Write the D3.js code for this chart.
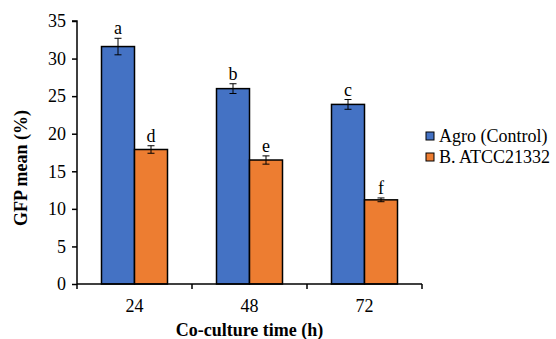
<!DOCTYPE html>
<html>
<head>
<meta charset="utf-8">
<script src="https://cdn.jsdelivr.net/npm/d3@7"></script>
<style>
  body { margin: 0; background: #fff; }
  svg text { font-family: "Liberation Serif", serif !important; }
</style>
</head>
<body>
<div id="chart"></div>
<script>
// Data
const times = ["24", "48", "72"];
const seriesNames = ["Agro (Control)", "B. ATCC21332"];
const agroMean = [31.6, 26.0, 23.9];
const agroErr = [1.1, 0.65, 0.65];
const bacMean = [17.9, 16.5, 11.2];
const bacErr = [0.5, 0.55, 0.25];
const agroLetters = ["a", "b", "c"];
const bacLetters = ["d", "e", "f"];
const yTicks = [0, 5, 10, 15, 20, 25, 30, 35];

const colors = ["#4472C4", "#ED7D31"];
const font = "'Liberation Serif', serif";

const width = 556, height = 339;
const margin = { top: 21, right: 134, bottom: 55, left: 77 };

const svg = d3.select("#chart").append("svg")
    .attr("width", width)
    .attr("height", height)
    .attr("font-family", font);

const g = svg.append("g")
    .attr("transform", `translate(${margin.left},${margin.top})`);

const innerW = width - margin.left - margin.right;
const innerH = height - margin.top - margin.bottom;

const x0 = d3.scaleBand().domain(times).range([0, innerW]).paddingInner(0).paddingOuter(0);
const x1 = d3.scaleBand().domain(seriesNames).range([0, 66]);
const barOffset = (x0.bandwidth() - 66) / 2;

const y = d3.scaleLinear().domain([0, 35]).range([innerH, 0]);

// build rows for the bars
const rows = [];
times.forEach((t, i) => {
    rows.push({ time: t, s: seriesNames[0], v: agroMean[i], e: agroErr[i], l: agroLetters[i], c: colors[0] });
    rows.push({ time: t, s: seriesNames[1], v: bacMean[i], e: bacErr[i], l: bacLetters[i], c: colors[1] });
});

// Bars
g.selectAll(".bar")
    .data(rows)
    .enter().append("rect")
    .attr("class", "bar")
    .attr("x", d => x0(d.time) + barOffset + x1(d.s))
    .attr("y", d => y(d.v))
    .attr("width", x1.bandwidth())
    .attr("height", d => innerH - y(d.v))
    .attr("fill", d => d.c)
    .attr("stroke", "#000")
    .attr("stroke-width", 1.5);

// Error bars
const cx = d => x0(d.time) + barOffset + x1(d.s) + x1.bandwidth() / 2;
const eb = g.selectAll(".err").data(rows).enter().append("g")
    .attr("stroke", "#000").attr("stroke-width", 1);
eb.append("line")
    .attr("x1", cx).attr("x2", cx)
    .attr("y1", d => y(d.v + d.e)).attr("y2", d => y(d.v - d.e));
eb.append("line")
    .attr("x1", d => cx(d) - 3.5).attr("x2", d => cx(d) + 3.5)
    .attr("y1", d => y(d.v + d.e)).attr("y2", d => y(d.v + d.e));
eb.append("line")
    .attr("x1", d => cx(d) - 3.5).attr("x2", d => cx(d) + 3.5)
    .attr("y1", d => y(d.v - d.e)).attr("y2", d => y(d.v - d.e));

// Significance letters
g.selectAll(".letter")
    .data(rows)
    .enter().append("text")
    .attr("x", cx)
    .attr("y", d => y(d.v + d.e) - 4)
    .attr("text-anchor", "middle")
    .style("font-size", "18px")
    .text(d => d.l);

// Y axis
const yAxis = g.append("g")
    .call(d3.axisLeft(y).tickValues(yTicks).tickSize(5).tickPadding(6))
    .attr("font-family", font);
yAxis.select(".domain").attr("stroke-width", 1.5).attr("d", `M-5,0H0V${innerH}`);
yAxis.selectAll(".tick line").attr("stroke-width", 1.5);
yAxis.selectAll("text").style("font-size", "18px").attr("fill", "#000");

// X axis: labels at band centers, ticks at band boundaries
const xAxis = g.append("g").attr("transform", `translate(0,${innerH})`);
xAxis.append("line")
    .attr("x1", 0).attr("x2", innerW)
    .attr("stroke", "#000").attr("stroke-width", 1.5);
xAxis.selectAll(".xtick")
    .data(times)
    .enter().append("line")
    .attr("x1", d => x0(d) + x0.bandwidth()).attr("x2", d => x0(d) + x0.bandwidth())
    .attr("y1", 0).attr("y2", 5)
    .attr("stroke", "#000").attr("stroke-width", 1.5);
xAxis.append("line")
    .attr("x1", 0).attr("x2", 0).attr("y1", 0).attr("y2", 5)
    .attr("stroke", "#000").attr("stroke-width", 1.5);
xAxis.selectAll(".xlab")
    .data(times)
    .enter().append("text")
    .attr("x", d => x0(d) + x0.bandwidth() / 2)
    .attr("y", 28)
    .attr("text-anchor", "middle")
    .style("font-size", "18px")
    .text(d => d);

// Axis titles
svg.append("text")
    .attr("x", margin.left + innerW / 2)
    .attr("y", 336)
    .attr("text-anchor", "middle")
    .style("font-size", "18px")
    .style("font-weight", "bold")
    .text("Co-culture time (h)");

svg.append("text")
    .attr("transform", "translate(27,168) rotate(-90)")
    .attr("text-anchor", "middle")
    .style("font-size", "18px")
    .style("font-weight", "bold")
    .text("GFP mean (%)");

// Legend
const legend = svg.append("g").attr("transform", "translate(426,136)");
const li = legend.selectAll(".li")
    .data(seriesNames)
    .enter().append("g")
    .attr("transform", (d, i) => `translate(0,${i * 21})`);
li.append("rect")
    .attr("x", 0).attr("y", -4)
    .attr("width", 8).attr("height", 8)
    .attr("fill", (d, i) => colors[i])
    .attr("stroke", "#000").attr("stroke-width", 1);
li.append("text")
    .attr("x", 13).attr("y", 6)
    .style("font-size", "18px")
    .text(d => d);
</script>
</body>
</html>
